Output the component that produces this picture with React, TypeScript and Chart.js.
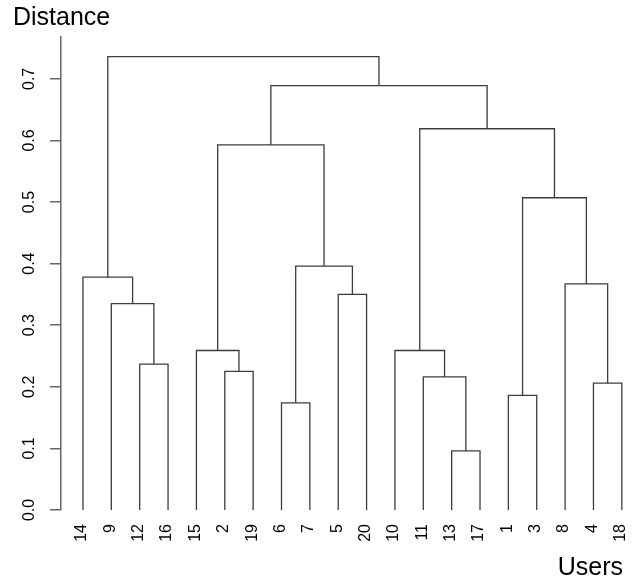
import React, { useEffect, useRef } from "react";
import { Chart, registerables } from "chart.js";

Chart.register(...registerables);

// Leaf order (user IDs) along the x axis
const leafLabels = ["14", "9", "12", "16", "15", "2", "19", "6", "7", "5", "20", "10", "11", "13", "17", "1", "3", "8", "4", "18"];

// hclust-style merges: negative = user ID (leaf), positive = earlier merge step (1-based)
const mergeLeft = [-13, -6, -1, -4, -11, -2, -12, -15, -10, -9, -5, -8, -14, 2, 3, 8, 9, 16, 13];
const mergeRight = [-17, -7, -3, -18, 1, -19, -16, 6, 5, 7, -20, 4, 10, 11, 12, 14, 15, 17, 18];
const mergeHeight = [0.096, 0.174, 0.186, 0.206, 0.216, 0.225, 0.237, 0.259, 0.259, 0.335, 0.35, 0.367, 0.378, 0.396, 0.507, 0.593, 0.619, 0.689, 0.736];

const yTickValues = [0, 0.1, 0.2, 0.3, 0.4, 0.5, 0.6, 0.7];
const yTickLabels = ["0.0", "0.1", "0.2", "0.3", "0.4", "0.5", "0.6", "0.7"];

const yAxisTitle = "Distance";
const xAxisTitle = "Users";

const FONT = "'Liberation Sans', Arial, Helvetica, sans-serif";
const LINE_COLOR = "#3c3c3c";
const AXIS_COLOR = "#666666";

function buildSegments() {
  const clusterX: number[] = [];
  const nodePos = (ref: number) => {
    if (ref < 0) {
      const idx = leafLabels.indexOf(String(-ref));
      return { x: idx + 1, h: 0 };
    }
    return { x: clusterX[ref - 1], h: mergeHeight[ref - 1] };
  };
  const segs: { x: number; y: number }[][] = [];
  for (let i = 0; i < mergeHeight.length; i++) {
    const a = nodePos(mergeLeft[i]);
    const b = nodePos(mergeRight[i]);
    const l = a.x <= b.x ? a : b;
    const r = a.x <= b.x ? b : a;
    const h = mergeHeight[i];
    clusterX.push((l.x + r.x) / 2);
    segs.push([
      { x: l.x, y: l.h },
      { x: l.x, y: h },
      { x: r.x, y: h },
      { x: r.x, y: r.h },
    ]);
  }
  return segs;
}

const textPlugin = {
  id: "dendroText",
  afterDraw(chart: any) {
    const ctx = chart.ctx as CanvasRenderingContext2D;
    const xs = chart.scales.x;
    const ys = chart.scales.y;
    ctx.save();
    ctx.fillStyle = "#000";
    ctx.textBaseline = "alphabetic";

    // y tick labels (rotated)
    ctx.font = `16px ${FONT}`;
    yTickValues.forEach((v, i) => {
      const py = ys.getPixelForValue(v);
      ctx.save();
      ctx.translate(34, py);
      ctx.rotate(-Math.PI / 2);
      ctx.textAlign = "center";
      ctx.fillText(yTickLabels[i], 0, 0);
      ctx.restore();
    });

    // leaf labels (rotated)
    leafLabels.forEach((lab, i) => {
      const px = xs.getPixelForValue(i + 1);
      ctx.save();
      ctx.translate(px + 3.4, 524);
      ctx.rotate(-Math.PI / 2);
      ctx.textAlign = "right";
      ctx.fillText(lab, 0, 0);
      ctx.restore();
    });

    // titles
    ctx.font = `25px ${FONT}`;
    ctx.textAlign = "left";
    ctx.fillText(yAxisTitle, 13, 25);
    ctx.textAlign = "right";
    ctx.fillText(xAxisTitle, 623, 575);
    ctx.restore();
  },
};

export default function App() {
  const ref = useRef<HTMLCanvasElement | null>(null);

  useEffect(() => {
    if (!ref.current) return;
    const segs = buildSegments();
    const chart = new Chart(ref.current, {
      type: "scatter",
      data: {
        datasets: segs.map((s) => ({
          data: s,
          showLine: true,
          borderColor: LINE_COLOR,
          borderWidth: 1.3,
          pointRadius: 0,
          pointHoverRadius: 0,
          tension: 0,
          clip: false as any,
        })),
      },
      options: {
        animation: false,
        responsive: false,
        maintainAspectRatio: false,
        layout: { padding: { left: 50, top: 37, right: 6, bottom: 70 } },
        plugins: {
          legend: { display: false },
          tooltip: { enabled: false },
          title: { display: false },
        },
        events: [],
        scales: {
          x: {
            type: "linear",
            min: 0.225,
            max: 20.5,
            display: false,
          },
          y: {
            type: "linear",
            position: "left",
            min: 0,
            max: 0.768,
            border: { display: true, color: AXIS_COLOR, width: 1.5 },
            grid: {
              drawOnChartArea: false,
              drawTicks: true,
              tickLength: 11,
              color: AXIS_COLOR,
              lineWidth: 1.5,
            },
            ticks: { display: false, includeBounds: false },
            afterBuildTicks: (scale: any) => {
              scale.ticks = yTickValues.map((v) => ({ value: v }));
            },
          },
        },
      },
      plugins: [textPlugin],
    });
    return () => chart.destroy();
  }, []);

  return (
    <div style={{ position: "fixed", left: 0, top: 0, width: 642, height: 580, background: "#fff" }}>
      <canvas ref={ref} width={642} height={580} style={{ width: 642, height: 580, display: "block" }} />
    </div>
  );
}
